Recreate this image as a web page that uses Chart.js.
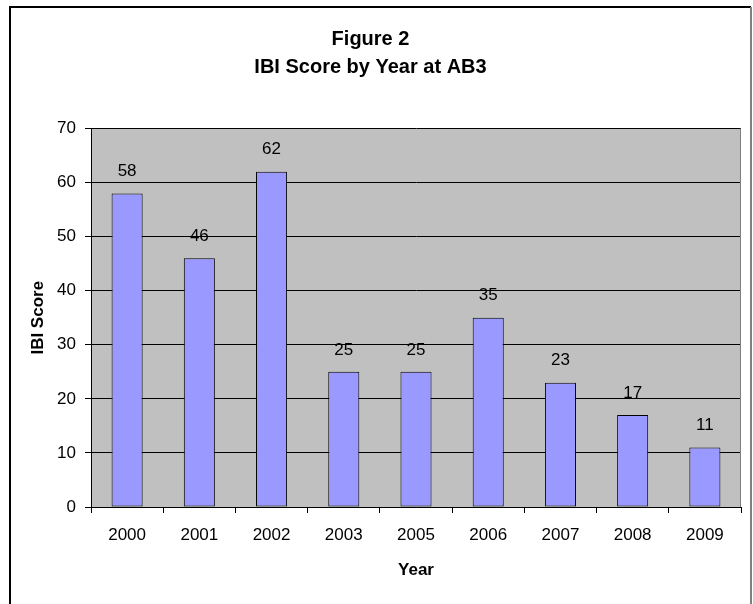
<!DOCTYPE html>
<html>
<head>
<meta charset="utf-8">
<script src="https://cdn.jsdelivr.net/npm/chart.js@4/dist/chart.umd.min.js"></script>
<style>
  html, body { margin: 0; padding: 0; background: #fff; }
  canvas { display: block; }
</style>
</head>
<body>
<canvas id="ibiChart" width="753" height="604"></canvas>
<script>
/* IBI score by year at AB3 (Figure 2) */

const YEARS = ['2000', '2001', '2002', '2003', '2005', '2006', '2007', '2008', '2009'];
const IBI_SCORES = [58, 46, 62, 25, 25, 35, 23, 17, 11];
const Y_MIN = 0;
const Y_MAX = 70;
const Y_STEP = 10;

const FONT = 'Liberation Sans, Arial, sans-serif';

// gray plot area + the frame round the whole figure
const frame = {
    id: 'frame',
    beforeDraw(chart) {
        const { ctx, chartArea: a } = chart;
        ctx.save();
        ctx.fillStyle = '#C0C0C0';
        ctx.fillRect(a.left, a.top, a.right - a.left, a.bottom - a.top);
        ctx.restore();
    },
    beforeDatasetsDraw(chart) {
        const { ctx, chartArea: a } = chart;
        ctx.save();
        ctx.strokeStyle = '#808080';
        ctx.lineWidth = 1;
        ctx.beginPath();
        ctx.moveTo(a.right - 0.5, a.top);
        ctx.lineTo(a.right - 0.5, a.bottom);
        ctx.stroke();
        ctx.restore();
    },
    afterDraw(chart) {
        const ctx = chart.ctx;
        ctx.save();
        ctx.lineWidth = 2;
        ctx.strokeStyle = '#000';
        ctx.beginPath();
        ctx.moveTo(10, 640);
        ctx.lineTo(10, 7);
        ctx.lineTo(751, 7);
        ctx.stroke();
        ctx.strokeStyle = '#808080';
        ctx.beginPath();
        ctx.moveTo(751, 7);
        ctx.lineTo(751, 640);
        ctx.stroke();
        ctx.restore();
    }
};

// value above each bar
const valueLabels = {
    id: 'valueLabels',
    afterDatasetsDraw(chart) {
        const ctx = chart.ctx;
        const meta = chart.getDatasetMeta(0);
        ctx.save();
        ctx.font = '17px ' + FONT;
        ctx.fillStyle = '#000';
        ctx.textAlign = 'center';
        ctx.textBaseline = 'middle';
        meta.data.forEach((bar, i) => {
            ctx.fillText(String(IBI_SCORES[i]), bar.x, bar.y - 22);
        });
        ctx.restore();
    }
};

new Chart(document.getElementById('ibiChart'), {
    type: 'bar',
    data: {
        labels: YEARS,
        datasets: [{
            data: IBI_SCORES,
            backgroundColor: '#9999FF',
            borderColor: '#000',
            borderWidth: 1,
            borderSkipped: false,
            categoryPercentage: 1,
            barPercentage: 0.43
        }]
    },
    options: {
        responsive: false,
        animation: false,
        layout: { padding: { left: 0, right: 12, top: 0, bottom: 0 } },
        plugins: {
            legend: { display: false },
            tooltip: { enabled: false },
            title: {
                display: true,
                text: ['Figure 2', 'IBI Score by Year at AB3'],
                color: '#000',
                font: { family: FONT, size: 20, weight: 'bold', lineHeight: 1.4 },
                padding: { top: 25, bottom: 47.5 }
            }
        },
        scales: {
            x: {
                afterFit: s => { s.height = 97; },
                grid: { offset: true, drawOnChartArea: false, drawTicks: true, tickLength: 6, color: '#000' },
                border: { display: true, color: '#000', width: 1 },
                ticks: { color: '#000', padding: 12, font: { family: FONT, size: 17 } },
                title: {
                    display: true, text: 'Year', color: '#000',
                    font: { family: FONT, size: 17, weight: 'bold' },
                    padding: { top: 0, bottom: 23 }
                }
            },
            y: {
                min: Y_MIN, max: Y_MAX,
                afterFit: s => { s.width = 91; },
                grid: { color: '#000', lineWidth: 1, drawTicks: true, tickLength: 6 },
                border: { display: true, color: '#000', width: 1 },
                ticks: { stepSize: Y_STEP, color: '#000', padding: 9, font: { family: FONT, size: 17 } },
                title: {
                    display: true, text: 'IBI Score', color: '#000',
                    font: { family: FONT, size: 17, weight: 'bold' },
                    padding: { top: 28, bottom: 0 }
                }
            }
        }
    },
    plugins: [frame, valueLabels]
});
</script>
</body>
</html>
